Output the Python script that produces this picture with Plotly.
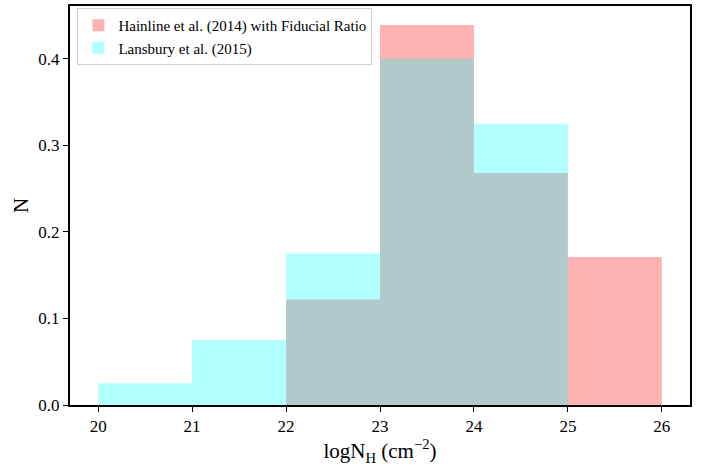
import plotly.graph_objects as go

bin_left = [20, 21, 22, 23, 24, 25]
hainline = [0.0, 0.0, 0.122, 0.439, 0.268, 0.171]
lansbury = [0.025, 0.075, 0.175, 0.400, 0.325, 0.0]
x_ticks = [20, 21, 22, 23, 24, 25, 26]
y_ticks = [0.0, 0.1, 0.2, 0.3, 0.4]

FONT = "Liberation Serif"

fig = go.Figure()
fig.add_trace(go.Bar(
    x=bin_left, y=hainline, width=1, offset=0,
    marker=dict(color="rgba(255,0,0,0.3)", line=dict(width=0)),
    name="Hainline et al. (2014) with Fiducial Ratio",
))
fig.add_trace(go.Bar(
    x=bin_left, y=lansbury, width=1, offset=0,
    marker=dict(color="rgba(0,255,255,0.3)", line=dict(width=0)),
    name="Lansbury et al. (2015)",
))

fig.update_layout(
    width=707, height=466,
    barmode="overlay",
    plot_bgcolor="white", paper_bgcolor="white",
    margin=dict(l=70, r=17, t=4, b=61),
    font=dict(family=FONT, size=17, color="black"),
    showlegend=True,
    legend=dict(
        x=0.012, y=0.995, xanchor="left", yanchor="top",
        bgcolor="rgba(255,255,255,0.8)", bordercolor="#d0d0d0", borderwidth=1,
        font=dict(family=FONT, size=15, color="black"),
        itemwidth=30, tracegroupgap=0,
    ),
    xaxis=dict(
        range=[19.7, 26.3], tickvals=x_ticks, ticktext=[str(v) for v in x_ticks],
        showgrid=False, zeroline=False,
        showline=True, linecolor="black", linewidth=2, mirror=True,
        ticks="outside", ticklen=5, tickwidth=1, tickcolor="black",
        tickfont=dict(family=FONT, size=17, color="black"),
        title=dict(text="logN<sub>H</sub> (cm<sup>−2</sup>)", font=dict(family=FONT, size=21), standoff=8),
    ),
    yaxis=dict(
        range=[0, 0.461], tickvals=y_ticks, ticktext=[f"{v:.1f}" for v in y_ticks],
        showgrid=False, zeroline=False,
        showline=True, linecolor="black", linewidth=2, mirror=True,
        ticks="outside", ticklen=5, tickwidth=1, tickcolor="black",
        tickfont=dict(family=FONT, size=17, color="black"),
        title=dict(text="N", font=dict(family=FONT, size=21), standoff=4),
    ),
)

fig.write_html("out.html")
